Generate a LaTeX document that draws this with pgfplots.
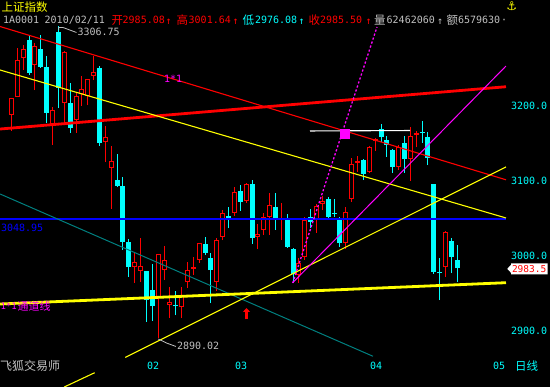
\documentclass[border=0pt]{standalone}
\usepackage{pgfplots}
\pgfplotsset{compat=1.18}
\usepackage{pgfplotstable}
\usepackage{fontspec}
\usetikzlibrary{arrows.meta}
\newfontfamily\mono{DejaVu Sans Mono}
\newfontfamily\cjk{Noto Sans CJK SC}
\newfontfamily\dvs{DejaVu Sans}
\definecolor{cy}{RGB}{0,255,255}
\definecolor{lgray}{RGB}{192,192,192}
\definecolor{tealc}{RGB}{0,128,128}
\definecolor{mag}{RGB}{255,0,255}
\definecolor{yel}{RGB}{255,255,0}
\definecolor{rd}{RGB}{255,0,0}
\definecolor{bl}{RGB}{0,0,255}
\newcommand\monof{\mono\fontsize{10bp}{12bp}\selectfont}
\newcommand\cjkf{\cjk\fontsize{11.5bp}{12bp}\selectfont}
\newcommand\mt[4]{\node[anchor=base west,text=#1,font=\monof] at (#2,#3) {#4};}
\newcommand\ct[4]{\node[anchor=west,text=#1,font=\cjkf] at (#2,#3) {#4};}

% rising (red, hollow) candles: x open high low close
\pgfplotstableread{
x o h l c
11.7 3188.0 3210.7 3166.7 3210.7
17.3 3212.0 3277.3 3212.0 3261.3
23.3 3264.0 3281.3 3248.0 3276.0
34.3 3254.7 3284.0 3221.3 3280.0
52.3 3176.0 3198.7 3148.0 3194.7
64.3 3204.0 3273.3 3178.7 3272.0
76.3 3181.3 3217.3 3164.0 3213.3
81.3 3216.0 3240.0 3200.0 3222.7
87.3 3213.3 3236.0 3201.3 3236.0
93.3 3240.0 3266.7 3234.7 3245.3
105.3 3152.0 3173.3 3125.3 3158.7
111.3 3117.3 3146.7 3062.7 3126.7
134.3 2985.3 3004.0 2964.0 2992.0
140.3 2980.0 3024.0 2965.3 2986.7
158.3 2945.3 3002.7 2890.02 3002.7
164.3 2981.3 3013.3 2968.0 2994.7
169.3 2934.7 2958.7 2917.3 2938.7
181.3 2932.0 2958.7 2917.3 2948.0
187.3 2965.3 2992.0 2957.3 2981.3
193.3 2982.7 2998.7 2974.7 2985.3
199.3 2994.7 3017.3 2990.7 3017.3
216.3 2965.3 3024.0 2953.3 3021.3
222.3 3025.3 3061.3 3021.3 3057.3
234.3 3057.3 3092.0 3053.3 3085.3
246.3 3073.3 3097.3 3070.7 3096.0
257.3 3025.3 3042.7 3009.3 3029.3
263.3 3034.7 3057.3 3028.0 3052.0
269.3 3052.0 3084.0 3028.0 3068.0
281.3 3048.0 3070.7 3021.3 3050.7
298.3 2974.7 2997.3 2964.0 2990.7
304.3 2998.7 3052.0 2994.7 3048.0
316.3 3048.0 3069.3 3030.7 3066.7
322.3 3069.3 3080.0 3061.3 3073.3
345.3 3017.3 3065.3 3009.3 3058.7
351.3 3076.0 3130.7 3072.0 3122.7
357.3 3124.0 3133.3 3112.0 3126.7
369.3 3112.0 3146.7 3110.7 3145.3
375.3 3153.3 3157.3 3140.0 3156.0
398.3 3118.7 3148.0 3114.7 3145.3
410.3 3129.3 3172.0 3100.0 3160.0
416.3 3161.3 3166.7 3145.3 3164.0
445.3 2985.3 3033.3 2972.0 3032.0
}\redc

% falling (cyan, filled) candles: x open high low close
\pgfplotstableread{
x o h l c
29.3 3288.0 3293.3 3241.3 3244.0
40.3 3276.0 3294.7 3250.7 3252.0
46.3 3252.0 3266.7 3177.3 3190.7
58.7 3298.7 3306.75 3197.3 3224.0
70.3 3204.0 3230.7 3164.0 3170.7
99.3 3250.7 3253.3 3146.7 3150.7
117.3 3101.3 3136.0 3092.0 3093.3
122.3 3093.3 3105.3 3008.0 3018.7
128.3 3018.7 3022.7 2972.0 2985.3
146.3 2980.0 2980.0 2912.0 2941.3
152.3 2954.7 2989.3 2913.3 2933.3
175.3 2934.0 2953.3 2921.3 2932.7
205.3 3016.0 3025.3 3001.3 3004.0
210.3 2997.3 3004.0 2937.3 2981.3
228.3 3052.7 3065.3 3037.3 3051.3
240.3 3086.7 3094.7 3060.0 3072.0
252.3 3096.0 3101.3 3016.0 3024.0
275.3 3065.3 3084.0 3034.7 3049.3
287.3 3050.7 3056.0 3010.7 3012.0
293.3 3009.3 3010.7 2964.0 2976.0
310.3 3052.0 3062.7 3037.3 3045.3
328.3 3076.0 3078.7 3049.3 3052.0
334.3 3057.3 3076.0 3052.0 3056.0
339.3 3049.3 3052.0 3012.0 3017.3
363.3 3128.0 3129.3 3101.3 3109.3
381.3 3169.3 3176.0 3152.0 3158.7
386.3 3154.7 3160.0 3132.0 3148.0
392.3 3141.3 3142.7 3110.7 3118.7
404.3 3150.7 3160.0 3110.7 3129.3
422.3 3165.3 3180.0 3150.7 3164.0
427.3 3158.7 3165.3 3121.3 3130.7
433.3 3096.0 3096.0 2976.0 2978.7
439.3 2978.0 2997.3 2941.3 2976.7
451.3 3020.0 3024.0 2977.3 2998.7
457.3 2994.7 3014.7 2965.3 2983.5
}\cyanc

\begin{document}
\begin{tikzpicture}
\fill[black] (0,0) rectangle (550bp,387bp);
\begin{axis}[at={(0,0)}, anchor=south west, width=550bp, height=387bp, scale only axis,
  xmin=0, xmax=550, ymin=2825.333, ymax=3341.333, hide axis, clip=true]
% wicks
\addplot[rd, line width=1.1bp, quiver={u=0, v=\thisrow{h}-\thisrow{l}}] table[x=x, y=l] {\redc};
\addplot[cy, line width=1.1bp, quiver={u=0, v=\thisrow{h}-\thisrow{l}}] table[x=x, y=l] {\cyanc};
% bodies
\addplot[rd, line width=4.6bp, quiver={u=0, v=\thisrow{c}-\thisrow{o}}] table[x=x, y=o] {\redc};
\addplot[black, line width=2.4bp, quiver={u=0, v={max(0,\thisrow{c}-\thisrow{o}-2.9)}}] table[x=x, y expr=\thisrow{o}+1.45] {\redc};
\addplot[cy, line width=4.6bp, quiver={u=0, v=\thisrow{o}-\thisrow{c}}] table[x=x, y=c] {\cyanc};
% drawn lines
\addplot[bl, line width=2bp] coordinates {(0,3048.95) (506,3048.95)};
\addplot[tealc, line width=1bp] coordinates {(0,3082.7) (373,2866.3)};
\addplot[rd, line width=1.1bp] coordinates {(0,3306.0) (506,3101.6)};
\addplot[rd, line width=2.8bp] coordinates {(0,3169.3) (506,3225.7)};
\addplot[yel, line width=1.1bp] coordinates {(0,3248.0) (506,3050.7)};
\addplot[yel, line width=1.1bp] coordinates {(64.2,2825.3) (94.7,2844.4)};
\addplot[yel, line width=1.1bp] coordinates {(125.3,2864.8) (506,3118.7)};
\addplot[yel, line width=2.8bp] coordinates {(0,2936.0) (506,2964.4)};
\addplot[mag, line width=1bp] coordinates {(292.7,2964.4) (506,3253.3)};
\addplot[mag, line width=1.3bp, dash pattern=on 2.2bp off 2bp] coordinates {(292.7,2964.0) (377,3305.3)};
\addplot[white, line width=1.1bp] coordinates {(310,3166.7) (410,3167.3)};
\addplot[only marks, mark=square*, mark size=4.3bp, mag, mark options={draw=mag, fill=mag}] coordinates {(344.5,3162.7)};
\end{axis}
\begin{scope}[x=1bp, y=-1bp, yshift=387bp, every node/.style={inner sep=0pt, outer sep=0pt}]
\ct{yel}{1.5}{7.5}{上证指数}
\node[text=yel, font=\dvs\fontsize{12bp}{12bp}\selectfont, anchor=center] at (511.7,6) {⚓};
\mt{lgray}{3}{24}{1A0001}
\mt{lgray}{44.7}{24}{2010/02/11}
\ct{rd}{111.5}{20.5}{开}
\mt{rd}{122.7}{24}{2985.08}
\mt{rd}{165.5}{24.5}{↑}
\ct{rd}{176.5}{20.5}{高}
\mt{rd}{188.7}{24}{3001.64}
\mt{rd}{232.5}{24.5}{↑}
\ct{cy}{242.5}{20.5}{低}
\mt{cy}{255}{24}{2976.08}
\mt{cy}{298.5}{24.5}{↑}
\ct{rd}{308.5}{20.5}{收}
\mt{rd}{320}{24}{2985.50}
\mt{rd}{365.5}{24.5}{↑}
\ct{lgray}{374}{20.5}{量}
\mt{lgray}{386.7}{24}{62462060}
\mt{lgray}{437}{24.5}{↑}
\ct{lgray}{446.5}{20.5}{额}
\mt{lgray}{458}{24}{6579630}
\mt{lgray}{501}{24}{·}
% high / low annotations
\draw[lgray, line width=0.8bp] (58.7,30) -- (58.7,27.5) -- (63,27.5) -- (76.5,32.5);
\mt{lgray}{77.5}{36}{3306.75}
\draw[lgray, line width=0.8bp] (158.3,339) -- (166.5,343) -- (176,346.5);
\mt{lgray}{177}{350}{2890.02}
\mt{mag}{164}{83}{1*1}
\mt{bl}{1}{231.5}{3048.95}
\node[anchor=base west, text=mag, font=\mono\fontsize{9bp}{12bp}\selectfont] at (0.5,309.5) {1*1};
\node[anchor=west, text=mag, font=\cjk\fontsize{11bp}{12bp}\selectfont] at (17.5,306) {通道线};
% right scale
\mt{cy}{511}{110}{3200.0}
\mt{cy}{511}{185}{3100.0}
\mt{cy}{511}{260}{3000.0}
\mt{cy}{511}{335}{2900.0}
\fill[white] (507.3,268.8) -- (511,264.8) -- (511,263.3) -- (547.5,263.3) -- (547.5,274.3) -- (511,274.3) -- (511,272.8) -- cycle;
\node[anchor=base west, text=rd, font=\mono\fontsize{9.5bp}{12bp}\selectfont] at (512,272.7) {2983.5};
% red arrow
\draw[rd, line width=2.5bp, -{Triangle[length=4bp, width=7bp]}] (246.5,319.5) -- (246.5,308);
% bottom row
\node[anchor=west, text=lgray, font=\cjk\fontsize{12bp}{12bp}\selectfont] at (0,366) {飞狐交易师};
\mt{cy}{147}{370}{02}
\mt{cy}{235}{370}{03}
\mt{cy}{370}{370}{04}
\mt{cy}{493}{370}{05}
\ct{cy}{515}{366}{日线}
\end{scope}
\pgfresetboundingbox
\useasboundingbox (0,0) rectangle (550bp,387bp);
\end{tikzpicture}
\end{document}
